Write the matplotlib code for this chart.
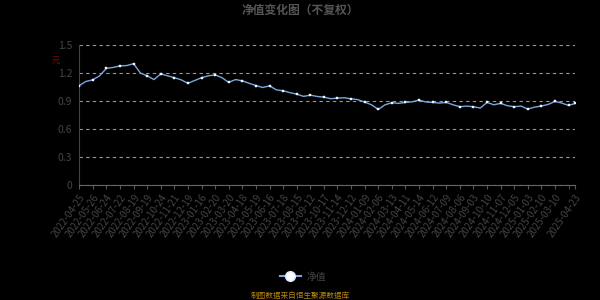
import matplotlib.pyplot as plt
import numpy as np

plt.rcParams['font.family'] = ['Noto Sans CJK SC', 'DejaVu Sans']

# tick labels, one every 20 trading days (plus the last date)
tick_dates = ['2022-04-25', '2022-05-26', '2022-06-24', '2022-07-22', '2022-08-19',
              '2022-09-19', '2022-10-24', '2022-11-21', '2022-12-19', '2023-01-16',
              '2023-02-20', '2023-03-20', '2023-04-18', '2023-05-19', '2023-06-16',
              '2023-07-18', '2023-08-15', '2023-09-12', '2023-10-17', '2023-11-14',
              '2023-12-12', '2024-01-09', '2024-02-06', '2024-03-13', '2024-04-11',
              '2024-05-14', '2024-06-12', '2024-07-09', '2024-08-06', '2024-09-03',
              '2024-10-10', '2024-11-07', '2024-12-05', '2025-01-03', '2025-02-10',
              '2025-03-10', '2025-04-23']

nav = [1.066, 1.11, 1.127, 1.17, 1.25, 1.26, 1.276, 1.28, 1.30, 1.20,
       1.17, 1.13, 1.19, 1.17, 1.15, 1.127, 1.09, 1.12, 1.15, 1.17,
       1.18, 1.15, 1.10, 1.13, 1.116, 1.09, 1.066, 1.045, 1.063, 1.02,
       1.01, 0.99, 0.974, 0.95, 0.963, 0.949, 0.942, 0.925, 0.931, 0.935,
       0.924, 0.915, 0.889, 0.86, 0.81, 0.86, 0.882, 0.875, 0.885, 0.892,
       0.91, 0.89, 0.885, 0.878, 0.885, 0.86, 0.839, 0.846, 0.839, 0.825,
       0.885, 0.86, 0.875, 0.85, 0.839, 0.846, 0.814, 0.835, 0.846, 0.864,
       0.896, 0.878, 0.853, 0.875]

x = np.arange(len(nav))
tick_pos = list(range(0, len(nav) - 1, 2))
mark_idx = tick_pos + [len(nav) - 1]
label_pos = tick_pos[:len(tick_dates) - 1] + [len(nav) - 1]

fig = plt.figure(figsize=(6, 3), dpi=100, facecolor='black')
ax = fig.add_axes([0.132, 0.383, 0.827, 0.467], facecolor='black')

line_col = '#7ba7e0'
ax.plot(x, nav, color=line_col, lw=1.0, zorder=3)
ax.plot(x[mark_idx], np.array(nav)[mark_idx], ls='none', marker='s', ms=1.8,
        mfc='white', mec='#dce8f8', mew=0.3, zorder=4)

ax.set_xlim(0, len(nav) - 1)
ax.set_ylim(0, 1.5)
ax.set_yticks(np.arange(0, 1.51, 0.3))
ax.set_yticklabels(['0', '0.3', '0.6', '0.9', '1.2', '1.5'])
ax.yaxis.grid(True, color='#9a9a9a', ls=(0, (3, 3)), lw=0.8)
ax.set_axisbelow(True)

ax.set_xticks(label_pos)
ax.set_xticks(sorted(set(mark_idx)), minor=True)
ax.set_xticklabels(tick_dates, rotation=55, ha='right', rotation_mode='anchor')
ax.tick_params(axis='x', which='both', colors='#555555', length=3, labelsize=7, pad=2)
ax.tick_params(axis='x', which='major', labelcolor='#444444')
ax.tick_params(axis='y', length=0, labelsize=7.5, labelcolor='#444444', pad=5)

for s in ['top', 'right']:
    ax.spines[s].set_visible(False)
ax.spines['left'].set_color('#444444')
ax.spines['bottom'].set_color('#666666')

fig.text(0.5, 0.965, '净值变化图（不复权）', ha='center', va='center',
         fontsize=8.5, color='#555555', fontweight='bold')
fig.text(0.093, 0.8, '元', ha='center', va='center', fontsize=6, color='#8b0000')

# legend
ax.plot([], [], color=line_col, marker='o', ms=7, mfc='white', mec='#dbe8ff',
        label='净值')
leg = ax.legend(loc='center', frameon=False, fontsize=7,
                handlelength=2.2, handletextpad=0.6)
leg.set_bbox_to_anchor((0.505, 0.077), transform=fig.transFigure)
for t in leg.get_texts():
    t.set_color('#444444')

fig.text(0.5, 0.013, '制图数据来自恒生聚源数据库', ha='center', va='center',
         fontsize=5.5, color='#b8860b')

fig.savefig('out.png', dpi=100, facecolor='black')
